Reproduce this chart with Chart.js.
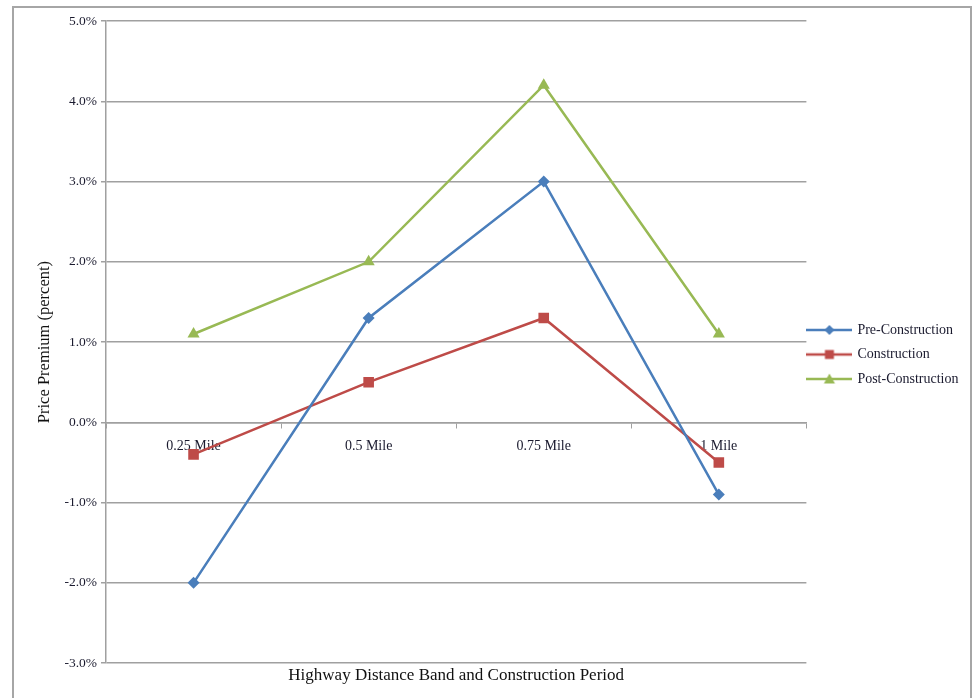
<!DOCTYPE html>
<html>
<head>
<meta charset="utf-8">
<script src="https://cdn.jsdelivr.net/npm/chart.js@4/dist/chart.umd.min.js"></script>
<style>
  html, body { margin: 0; padding: 0; background: #fff; }
  #marco { position: absolute; left: 12px; top: 6px; width: 960px; height: 720px; border: 2px solid #a6a6a6; box-sizing: border-box; pointer-events: none; }
  #lienzo { position: absolute; left: 0; top: 0; }
</style>
</head>
<body>
<canvas id="lienzo" width="973" height="698"></canvas>
<div id="marco"></div>
<script>
// Prima de precio por banda de distancia a la autopista y periodo de obra
const categorias = ['0.25 Mile', '0.5 Mile', '0.75 Mile', '1 Mile'];
const preConstruccion = [-2.0, 1.3, 3.0, -0.9];
const construccion = [-0.4, 0.5, 1.3, -0.5];
const postConstruccion = [1.1, 2.0, 4.2, 1.1];
const nombresSeries = ['Pre-Construction', 'Construction', 'Post-Construction'];
const ticksY = [-3, -2, -1, 0, 1, 2, 3, 4, 5];

const azul = '#4a7ebb';
const rojo = '#be4b48';
const verde = '#98b954';
const gris = '#a0a0a0';
const fuente = "'Liberation Serif', 'Times New Roman', serif";

// icono de leyenda: línea con el marcador en el medio
function iconoLeyenda(color, forma) {
  const c = document.createElement('canvas');
  c.width = 46; c.height = 14;
  const ctx = c.getContext('2d');
  ctx.strokeStyle = color; ctx.fillStyle = color; ctx.lineWidth = 2.5;
  ctx.beginPath(); ctx.moveTo(0, 7); ctx.lineTo(46, 7); ctx.stroke();
  ctx.beginPath();
  if (forma === 'rombo') {
    ctx.moveTo(23, 2); ctx.lineTo(28, 7); ctx.lineTo(23, 12); ctx.lineTo(18, 7);
  } else if (forma === 'cuadro') {
    ctx.rect(18.5, 2.5, 9, 9);
  } else {
    ctx.moveTo(23, 1.5); ctx.lineTo(28.5, 11.5); ctx.lineTo(17.5, 11.5);
  }
  ctx.closePath(); ctx.fill();
  return c;
}
const iconos = [iconoLeyenda(azul, 'rombo'), iconoLeyenda(rojo, 'cuadro'), iconoLeyenda(verde, 'triangulo')];

const serie = (label, data, color, pointStyle, radio) => ({
  label, data,
  borderColor: color, backgroundColor: color,
  borderWidth: 2.5, pointStyle, pointRadius: radio, pointHoverRadius: radio,
  pointBorderWidth: 0, tension: 0,
});

// la leyenda de Excel queda pegada al área del gráfico: se corre un poco a la izquierda
const correrLeyenda = {
  id: 'correrLeyenda',
  afterLayout(chart) {
    chart.legend.left -= 8.5;
    chart.legend.right -= 8.5;
  },
};

new Chart(document.getElementById('lienzo'), {
  type: 'line',
  data: {
    labels: categorias,
    datasets: [
      serie(nombresSeries[0], preConstruccion, azul, 'rectRot', 6),
      serie(nombresSeries[1], construccion, rojo, 'rect', 7.5),
      serie(nombresSeries[2], postConstruccion, verde, 'triangle', 7),
    ],
  },
  plugins: [correrLeyenda],
  options: {
    responsive: false,
    animation: false,
    layout: { padding: { left: 35, top: 21, bottom: 10, right: -4 } },
    plugins: {
      tooltip: { enabled: false },
      legend: {
        position: 'right',
        labels: {
          usePointStyle: true,
          pointStyleWidth: 42,
          padding: 10.5,
          color: '#1a1a2e',
          font: { family: fuente, size: 14 },
          generateLabels: (chart) =>
            Chart.defaults.plugins.legend.labels.generateLabels(chart).map((item, i) => ({ ...item, pointStyle: iconos[i] })),
        },
      },
      title: {
        display: true,
        position: 'bottom',
        fullSize: false,
        text: 'Highway Distance Band and Construction Period',
        color: '#111',
        font: { family: fuente, size: 17, weight: 'normal' },
        padding: { top: 2, bottom: 2.5 },
      },
    },
    scales: {
      x: {
        position: { y: 0 },
        offset: true,
        grid: { display: true, drawOnChartArea: false, drawTicks: true, tickLength: 5, color: gris, offset: true },
        border: { display: true, color: gris, width: 1.5 },
        ticks: { color: '#1a1a2e', font: { family: fuente, size: 14 }, padding: 11, maxRotation: 0 },
      },
      y: {
        min: ticksY[0],
        max: ticksY[ticksY.length - 1],
        afterBuildTicks: (scale) => { scale.ticks = ticksY.map((v) => ({ value: v })); },
        afterFit: (scale) => { scale.width = 71; },
        grid: { color: gris, lineWidth: 1.5, tickLength: 5 },
        border: { display: true, color: gris, width: 1.5 },
        ticks: {
          color: '#1a1a2e',
          font: { family: fuente, size: 13.5 },
          padding: 4,
          callback: (v) => v.toFixed(1) + '%',
        },
        title: {
          display: true,
          text: 'Price Premium (percent)',
          color: '#111',
          font: { family: fuente, size: 16.5 },
          padding: { top: 0, bottom: 0 },
        },
      },
    },
  },
});
</script>
</body>
</html>
